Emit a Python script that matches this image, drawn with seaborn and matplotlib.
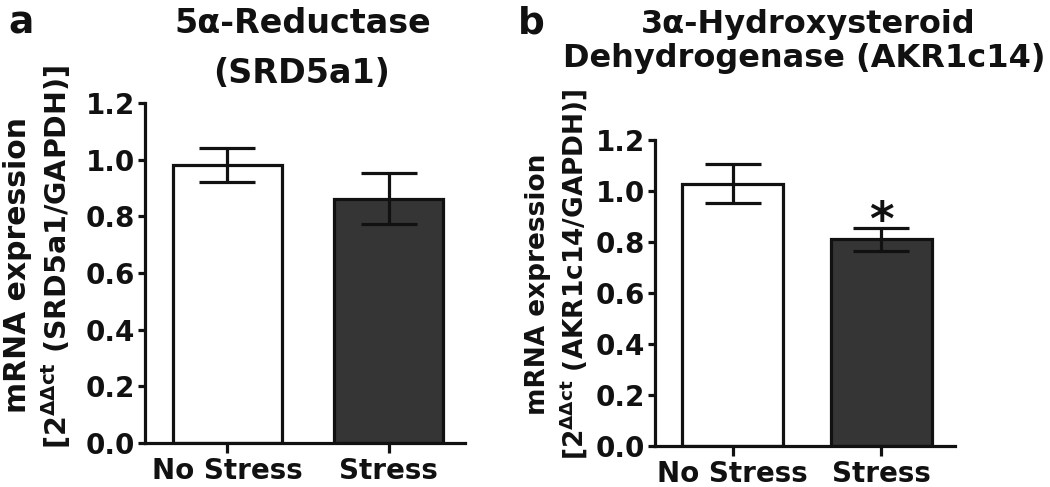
import matplotlib
matplotlib.use("Agg")
import matplotlib.pyplot as plt
import seaborn as sns

# ---- data ----
conditions = ["No Stress", "Stress"]
srd_mean = [0.98, 0.862]
srd_sem = [0.06, 0.09]
akr_mean = [1.029, 0.81]
akr_sem = [0.077, 0.044]
yticks = [0.0, 0.2, 0.4, 0.6, 0.8, 1.0, 1.2]
bar_colors = ["#ffffff", "#353535"]

sns.set_style("ticks")
plt.rcParams["font.family"] = ["DejaVu Sans"]
plt.rcParams["font.weight"] = "bold"
plt.rcParams["mathtext.fontset"] = "custom"
plt.rcParams["mathtext.rm"] = "DejaVu Sans:bold"
plt.rcParams["mathtext.it"] = "DejaVu Sans:bold"
plt.rcParams["mathtext.bf"] = "DejaVu Sans:bold"

W, H = 1050, 487
fig = plt.figure(figsize=(W / 100, H / 100), dpi=100)

def fx(px):
    return px / W

def fy(py):
    return 1 - py / H

ink = "#111111"
lw = 2.3

def panel(rect, means, sems, xlim):
    ax = fig.add_axes(rect)
    sns.barplot(x=conditions, y=means, hue=conditions, palette=bar_colors,
                edgecolor=ink, linewidth=lw, width=0.68, errorbar=None,
                legend=False, ax=ax, zorder=2)
    ax.errorbar(x=[0, 1], y=means, yerr=sems, fmt="none", ecolor=ink,
                elinewidth=lw, capsize=20, capthick=lw, zorder=3)
    ax.set_ylim(0, 1.2)
    ax.set_xlim(*xlim)
    ax.set_yticks(yticks)
    ax.set_yticklabels([f"{v:.1f}" for v in yticks])
    for s in ["top", "right"]:
        ax.spines[s].set_visible(False)
    for s in ["left", "bottom"]:
        ax.spines[s].set_linewidth(lw)
        ax.spines[s].set_color(ink)
    ax.tick_params(axis="y", length=5, width=lw, color=ink, pad=2,
                   labelsize=20, labelcolor=ink)
    ax.tick_params(axis="x", length=7, width=lw, color=ink, pad=3,
                   labelsize=20, labelcolor=ink)
    for t in ax.get_xticklabels() + ax.get_yticklabels():
        t.set_fontweight("bold")
    ax.set_xlabel("")
    ax.set_ylabel("")
    return ax

ax_a = panel([fx(145), fy(443), fx(320), (443 - 103) / H], srd_mean, srd_sem,
             (-0.512, 1.475))
ax_b = panel([fx(655), fy(445.7), fx(300), (445.7 - 140) / H], akr_mean, akr_sem,
             (-0.522, 1.498))

# asterisk
ax_b.annotate("*", xy=(1, akr_mean[1] + akr_sem[1]), xytext=(0, -5),
              textcoords="offset points", ha="center", va="baseline",
              fontsize=34, fontweight="bold", color=ink)

# panel letters
fig.text(fx(8), fy(33), "a", fontsize=27, fontweight="bold", color=ink,
         ha="left", va="baseline")
fig.text(fx(518), fy(33), "b", fontsize=27, fontweight="bold", color=ink,
         ha="left", va="baseline")

# titles
fig.text(fx(303), fy(33), "5α-Reductase", fontsize=24, fontweight="bold",
         color=ink, ha="center", va="baseline")
fig.text(fx(302), fy(83), "(SRD5a1)", fontsize=24, fontweight="bold",
         color=ink, ha="center", va="baseline")
fig.text(fx(808), fy(33), "3α-Hydroxysteroid", fontsize=23, fontweight="bold",
         color=ink, ha="center", va="baseline")
fig.text(fx(804), fy(67), "Dehydrogenase (AKR1c14)", fontsize=23,
         fontweight="bold", color=ink, ha="center", va="baseline")

# y labels
fig.text(fx(18), fy(265), "mRNA expression", rotation=90, fontsize=21.5,
         fontweight="bold", color=ink, ha="center", va="center")
fig.text(fx(56), fy(257), r"[2$^{ΔΔct}$ (SRD5a1/GAPDH)]", rotation=90,
         fontsize=20.5, fontweight="bold", color=ink, ha="center", va="center")
fig.text(fx(538), fy(284), "mRNA expression", rotation=90, fontsize=19,
         fontweight="bold", color=ink, ha="center", va="center")
fig.text(fx(574), fy(274), r"[2$^{ΔΔct}$ (AKR1c14/GAPDH)]", rotation=90,
         fontsize=19, fontweight="bold", color=ink, ha="center", va="center")

fig.savefig("out.png", dpi=100, facecolor="white")
